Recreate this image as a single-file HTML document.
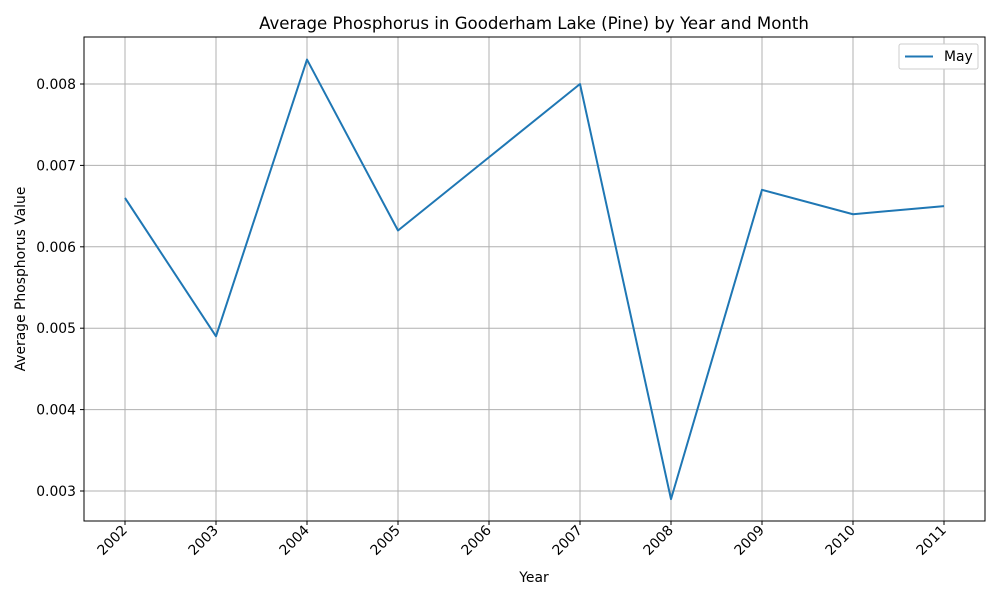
<!DOCTYPE html>
<html><head><meta charset="utf-8"><style>
body{margin:0;background:#fff;}
svg{font-family:"DejaVu Sans","Liberation Sans",sans-serif;}
</style></head><body>
<svg id="chart" width="1000" height="600">
<text x="534" y="29" font-size="16.6" text-anchor="middle">Average Phosphorus in Gooderham Lake (Pine) by Year and Month</text>
<g id="grid"></g>
<g id="ticks"></g>
<rect x="84" y="37" width="901" height="484" fill="none" stroke="#000" stroke-width="1"/>
<text x="534" y="582" font-size="13.9" text-anchor="middle">Year</text>
<text transform="translate(25,279) rotate(-90)" font-size="13.9" text-anchor="middle">Average Phosphorus Value</text>
<g>
<rect x="899" y="44" width="79" height="25" rx="2" fill="#fff" stroke="#ccc"/>
<line x1="905" y1="56.5" x2="933" y2="56.5" stroke="#1f77b4" stroke-width="2"/>
<text x="944" y="61" font-size="13.9">May</text>
</g>
</svg>
<script>
const years=[2002,2003,2004,2005,2006,2007,2008,2009,2010,2011];
const mayValues=[0.0066,0.0049,0.0083,0.0062,0.0071,0.0080,0.0029,0.0067,0.0064,0.0065];
const yTicks=[0.003,0.004,0.005,0.006,0.007,0.008];
const NS="http://www.w3.org/2000/svg";
const svg=document.getElementById('chart');
const grid=document.getElementById('grid'),ticks=document.getElementById('ticks');
const x=yr=>125+(yr-2002)*(944-125)/9;
const y=v=>491-(v-0.003)*(491-84)/0.005;
function mk(t,a,p){const e=document.createElementNS(NS,t);for(const k in a)e.setAttribute(k,a[k]);p.appendChild(e);return e;}
years.forEach(yr=>{
 const g=mk('line',{x1:x(yr),x2:x(yr),y1:37,y2:521,stroke:'#b0b0b0','stroke-width':1},grid);
 
 
 mk('line',{x1:x(yr),x2:x(yr),y1:521,y2:525,stroke:'#000'},ticks);
 const t=mk('text',{'font-size':13.9,'text-anchor':'end',transform:`translate(${x(yr)+3},${531}) rotate(-45)`},ticks);
 t.textContent=yr;
 
 
});
yTicks.forEach(v=>{
 const g=mk('line',{x1:84,x2:985,y1:y(v),y2:y(v),stroke:'#b0b0b0','stroke-width':1},grid);
 
 
 mk('line',{x1:80,x2:84,y1:y(v),y2:y(v),stroke:'#000'},ticks);
 const t=mk('text',{x:76,y:y(v)+5,'font-size':13.9,'text-anchor':'end'},ticks);
 t.textContent=v.toFixed(3);
 
 
});
const pl=mk('polyline',{points:years.map((yr,i)=>x(yr)+','+y(mayValues[i])).join(' '),fill:'none',stroke:'#1f77b4','stroke-width':2,'stroke-linejoin':'round'},svg);


</script>
</body></html>
